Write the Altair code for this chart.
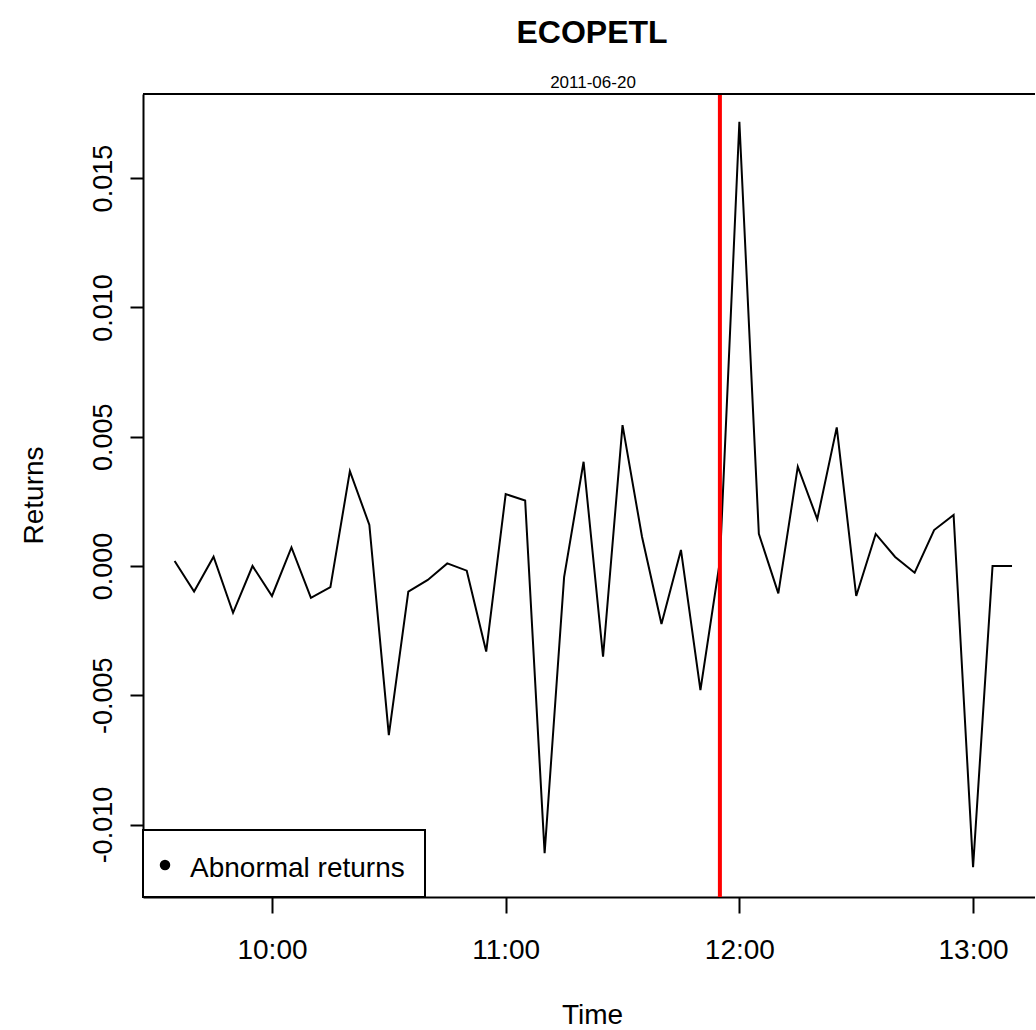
import altair as alt
import pandas as pd

# ---- data ----
times = ["09:35", "09:40", "09:45", "09:50", "09:55", "10:00", "10:05", "10:10", "10:15", "10:20",
         "10:25", "10:30", "10:35", "10:40", "10:45", "10:50", "10:55", "11:00", "11:05", "11:10",
         "11:15", "11:20", "11:25", "11:30", "11:35", "11:40", "11:45", "11:50", "11:55", "12:00",
         "12:05", "12:10", "12:15", "12:20", "12:25", "12:30", "12:35", "12:40", "12:45", "12:50",
         "12:55", "13:00", "13:05", "13:10"]
returns = [0.00019, -0.00099, 0.00036, -0.00181, 0.00000, -0.00116, 0.00072, -0.00123, -0.00082, 0.00367,
           0.00159, -0.00654, -0.00099, -0.00054, 0.00010, -0.00018, -0.00331, 0.00278, 0.00253, -0.01111,
           -0.00043, 0.00403, -0.00351, 0.00545, 0.00113, -0.00224, 0.00062, -0.00480, 0.00019, 0.01718,
           0.00124, -0.00106, 0.00384, 0.00181, 0.00536, -0.00116, 0.00124, 0.00035, -0.00026, 0.00139,
           0.00197, -0.01165, 0.00000, 0.00000]
event_time = ["11:55"]
day = "2011-06-20"
x_ticks = ["10:00", "11:00", "12:00", "13:00"]
y_ticks = [-0.010, -0.005, 0.0, 0.005, 0.010, 0.015]
title_text = ["ECOPETL"]
subtitle_text = ["2011-06-20"]
legend_text = ["Abnormal returns"]

df = pd.DataFrame({"time": [f"{day}T{t}:00" for t in times], "ret": returns})
ev = pd.DataFrame({"time": [f"{day}T{t}:00" for t in event_time]})

FONT = "Liberation Sans"
W, H = 892, 803


def dt(h, m, s=0):
    return alt.DateTime(year=2011, month=6, date=20, hours=h, minutes=m, seconds=s)


xscale = alt.Scale(domain=[dt(9, 26, 53), dt(13, 15, 54)], nice=False)
yscale = alt.Scale(domain=[-0.0128, 0.018252], nice=False, zero=False)

xaxis = alt.Axis(
    values=[dt(int(t[:2]), int(t[3:])) for t in x_ticks],
    format="%H:%M", grid=False,
    labelFont=FONT, labelFontSize=28, labelColor="black",
    labelBaseline="alphabetic", labelPadding=45, labelFlush=False, labelOverlap=False,
    tickSize=16, tickWidth=2, tickColor="black",
    domainColor="black", domainWidth=2,
    title="Time", titleFont=FONT, titleFontSize=28, titleFontWeight="normal", titleColor="black",
    titleX=449, titleY=126, titleAlign="center", titleBaseline="alphabetic",
)
yaxis = alt.Axis(
    values=y_ticks, grid=False,
    labelExpr="datum.value < 0 ? '-' + format(-datum.value, '.3f') : format(datum.value, '.3f')",
    labelFont=FONT, labelFontSize=27, labelColor="black",
    labelAngle=270, labelAlign="center", labelBaseline="alphabetic", labelPadding=19,
    labelFlush=False, labelOverlap=False,
    tickSize=13, tickWidth=2, tickColor="black",
    domainColor="black", domainWidth=2,
    title="Returns", titleFont=FONT, titleFontSize=28, titleFontWeight="normal", titleColor="black",
    titleAngle=270, titleX=-101, titleY=401, titleAlign="center", titleBaseline="alphabetic",
)

line = alt.Chart(df).mark_line(color="black", strokeWidth=2).encode(
    x=alt.X("time:T", scale=xscale, axis=xaxis),
    y=alt.Y("ret:Q", scale=yscale, axis=yaxis),
)

event = alt.Chart(ev).mark_rule(color="#FF0000", strokeWidth=4).encode(
    x=alt.X("time:T", scale=xscale)
)

one = pd.DataFrame({"k": [0]})
top_border = alt.Chart(one).mark_rule(color="black", strokeWidth=2).encode(
    x=alt.value(0), x2=alt.value(W), y=alt.value(0)
)

legend_box = alt.Chart(one).mark_rect(fill="white", stroke="black", strokeWidth=2).encode(
    x=alt.value(0), x2=alt.value(282), y=alt.value(736), y2=alt.value(803)
)
legend_dot = alt.Chart(one).mark_point(filled=True, color="black", size=110, opacity=1, shape="circle").encode(
    x=alt.value(22), y=alt.value(771)
)
legend_lbl = alt.Chart(pd.DataFrame({"t": legend_text})).mark_text(
    font=FONT, fontSize=28, color="black", align="left", baseline="alphabetic"
).encode(x=alt.value(47), y=alt.value(783), text="t:N")

title = alt.Chart(pd.DataFrame({"t": title_text})).mark_text(
    font=FONT, fontSize=32, fontWeight="bold", color="black", align="center", baseline="alphabetic"
).encode(x=alt.value(449), y=alt.value(-51), text="t:N")
subtitle = alt.Chart(pd.DataFrame({"t": subtitle_text})).mark_text(
    font=FONT, fontSize=17, color="black", align="center", baseline="alphabetic"
).encode(x=alt.value(450), y=alt.value(-6), text="t:N")

chart = alt.layer(
    line, event, top_border, legend_box, legend_dot, legend_lbl, title, subtitle
).properties(
    width=W, height=H,
    padding={"left": 143, "top": 94, "right": 0, "bottom": 131},
    autosize=alt.AutoSizeParams(type="none"),
    background="white",
).configure_view(stroke=None)

chart.save("out.html", embed_options={"renderer": "svg", "actions": False})
